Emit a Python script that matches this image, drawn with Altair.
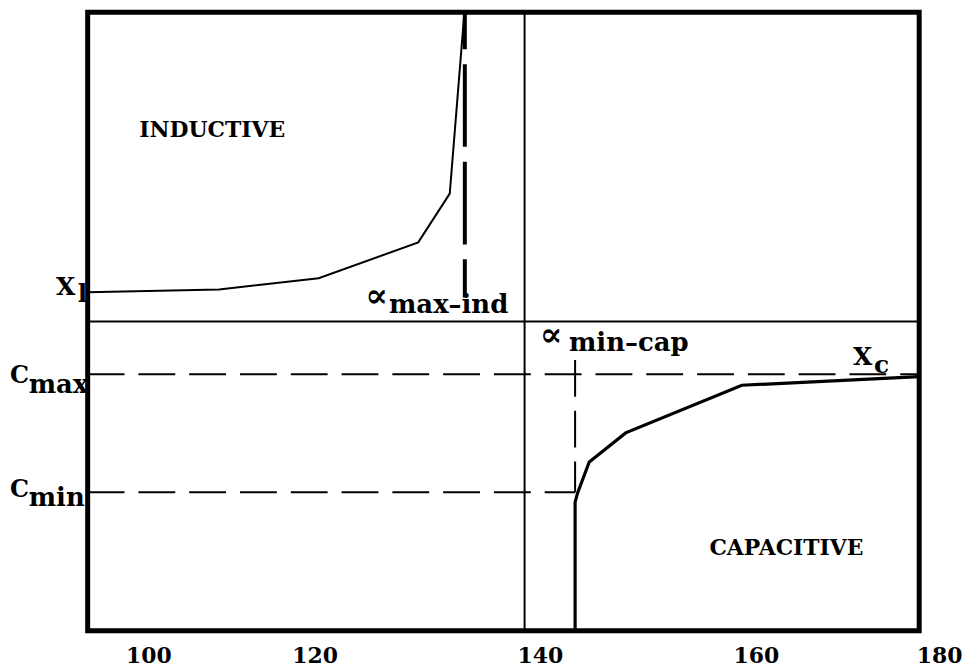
import altair as alt
import pandas as pd

# ---- data ----
tick_values = [100, 120, 140, 160, 180]

x_left, x_right = 92.69, 177.83          # box limits in x units
y_bottom, y_top = 0, 100                 # arbitrary reactance units

# inductive branch (X_L)
ind_x = [92.69, 108.5, 120.35, 129.2, 132.0, 133.3]
ind_y = [54.75, 55.2, 57.0, 62.8, 70.7, 100.0]

# capacitive branch (X_C)
cap_x = [143.27, 143.27, 143.5, 144.58, 147.95, 158.7, 177.83]
cap_y = [0.0, 20.8, 22.3, 27.3, 32.0, 39.7, 41.1]

zero_line_y = 50.0
resonance_x = 138.65
c_max_y = 41.5
c_min_y = 22.4
alpha_max_ind_x = 133.34
alpha_max_ind_y = [100.0, 53.9]
alpha_min_cap_x = 143.27
alpha_min_cap_y = [43.8, 22.4]

label_text = ["INDUCTIVE", "CAPACITIVE", "X", "l", "C", "max", "C", "min",
              "∝", "max\u2013ind", "∝", "min\u2013cap", "X", "c"]
label_x = [98.9, 155.7, 88.9, 91.5, 83.35, 85.6, 83.35, 85.6,
           124.5, 126.6, 140.0, 142.7, 170.6, 172.9]
label_y = [79.9, 12.2, 54.3, 53.1, 40.1, 38.5, 21.6, 20.1,
           52.3, 51.4, 46.0, 45.2, 43.0, 41.7]
label_size = [22, 22, 25, 25, 24, 26, 24, 26, 34, 26, 34, 26, 25, 25]

# ---- tables ----
ind_df = pd.DataFrame({"x": ind_x, "y": ind_y, "o": range(len(ind_x))})
cap_df = pd.DataFrame({"x": cap_x, "y": cap_y, "o": range(len(cap_x))})
lab_df = pd.DataFrame({"t": label_text, "x": label_x, "y": label_y, "s": label_size})

solid_h = pd.DataFrame({"x": [x_left], "x2": [x_right], "y": [zero_line_y], "y2": [zero_line_y]})
solid_v = pd.DataFrame({"x": [resonance_x], "x2": [resonance_x], "y": [y_top], "y2": [y_bottom]})
dash_thin = pd.DataFrame({
    "x": [x_left, x_left, alpha_min_cap_x],
    "x2": [x_right, alpha_min_cap_x, alpha_min_cap_x],
    "y": [c_max_y, c_min_y, alpha_min_cap_y[0]],
    "y2": [c_max_y, c_min_y, alpha_min_cap_y[1]],
})
dash_thick = pd.DataFrame({"x": [alpha_max_ind_x], "x2": [alpha_max_ind_x],
                           "y": [alpha_max_ind_y[0]], "y2": [alpha_max_ind_y[1]]})

FONT = "DejaVu Serif"

xscale = alt.Scale(domain=tick_values, range=[61, 228, 454, 671, 855], nice=False, zero=False)
yscale = alt.Scale(domain=[y_bottom, y_top], nice=False, zero=False)

xaxis = alt.Axis(values=tick_values, title=None, grid=False, ticks=False, tickSize=0,
                 domain=False, labelFlush=False, labelFont=FONT, labelFontWeight="bold",
                 labelFontSize=22, labelColor="black", labelPadding=15, labelOverlap=False)

X = alt.X("x:Q", scale=xscale, axis=xaxis)
Y = alt.Y("y:Q", scale=yscale, axis=None)
Xn = alt.X("x:Q", scale=xscale)
Yn = alt.Y("y:Q", scale=yscale)

l_solid_h = alt.Chart(solid_h).mark_rule(strokeWidth=2, color="black").encode(x=X, x2="x2", y=Y, y2="y2")
l_solid_v = alt.Chart(solid_v).mark_rule(strokeWidth=2, color="black").encode(x=Xn, x2="x2", y=Yn, y2="y2")
l_dash_thin = alt.Chart(dash_thin).mark_rule(strokeWidth=2, strokeDash=[37, 14], color="black").encode(
    x=Xn, x2="x2", y=Yn, y2="y2")
l_dash_thick = alt.Chart(dash_thick).mark_rule(strokeWidth=4, strokeDash=[83, 15], strokeDashOffset=46,
                                               color="black").encode(x=Xn, x2="x2", y=Yn, y2="y2")
l_ind = alt.Chart(ind_df).mark_line(color="black", strokeWidth=2).encode(x=Xn, y=Yn, order="o:Q")
l_cap = alt.Chart(cap_df).mark_line(color="black", strokeWidth=3.2).encode(x=Xn, y=Yn, order="o:Q")
l_text = alt.Chart(lab_df).mark_text(align="left", baseline="alphabetic", font=FONT,
                                     fontWeight="bold", color="black").encode(
    x=Xn, y=Yn, text="t:N", size=alt.Size("s:Q", scale=None))

chart = alt.layer(l_solid_h, l_solid_v, l_dash_thin, l_dash_thick, l_ind, l_cap, l_text).properties(
    width=835, height=621,
    padding={"left": 80, "top": 3, "right": 44, "bottom": 36},
    autosize=alt.AutoSizeParams(type="none"),
    background="white",
).configure_view(stroke="black", strokeWidth=5)

chart.save("out.html", embed_options={"renderer": "svg", "actions": False})
